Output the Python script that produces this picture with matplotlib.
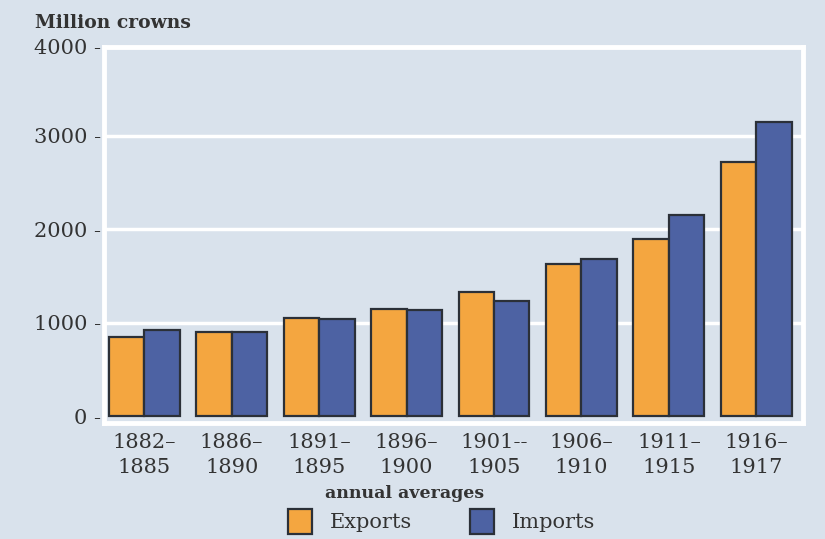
import matplotlib.pyplot as plt
import numpy as np
from matplotlib.patches import Rectangle

periods = ["1882–\n1885", "1886–\n1890", "1891–\n1895", "1896–\n1900",
           "1901--\n1905", "1906–\n1910", "1911–\n1915", "1916–\n1917"]
exports = [845, 898, 1048, 1144, 1326, 1626, 1893, 2716]
imports = [920, 895, 1037, 1134, 1230, 1679, 2150, 3144]
ytick_vals = [0, 1000, 2000, 3000, 3950]
ytick_labels = ["0", "1000", "2000", "3000", "4000"]

bg = "#d9e2ec"
orange = "#f4a640"
blue = "#4d62a3"
edge = "#2b3038"
txt = "#333333"
serif = ["DejaVu Serif"]

fig = plt.figure(figsize=(8.25, 5.39), dpi=100, facecolor=bg)
ax = fig.add_axes([0.126, 0.215, 0.847, 0.698], facecolor=bg)

x = np.arange(len(periods))
w = 0.405
ax.bar(x - w / 2, exports, w, color=orange, edgecolor=edge, linewidth=1.6, zorder=3)
ax.bar(x + w / 2, imports, w, color=blue, edgecolor=edge, linewidth=1.6, zorder=3)

ax.set_xlim(-0.46, 7.53)
ax.set_ylim(-75, 3950)

for gy in [1000, 2000, 3000]:
    ax.axhline(gy, color="white", linewidth=2.5, zorder=1)

for s in ax.spines.values():
    s.set_color("white")
    s.set_linewidth(3.5)

ax.set_xticks(x)
ax.set_xticklabels(periods, fontsize=15, color=txt, family=serif, linespacing=1.4)
ax.set_yticks(ytick_vals)
ax.set_yticklabels([l + " -" for l in ytick_labels], fontsize=15, color=txt, family=serif)
ax.tick_params(axis="both", length=0)
ax.tick_params(axis="y", pad=2)
ax.tick_params(axis="x", pad=7)

fig.text(0.042, 0.958, "Million crowns", fontsize=13.5, fontweight="bold",
         color=txt, family=serif, va="center", ha="left")
fig.text(0.49, 0.085, "annual averages", fontsize=12.5, fontweight="bold",
         color=txt, family=serif, va="center", ha="center")

# legend swatches and labels
for px, col, lab in [(0.349, orange, "Exports"), (0.570, blue, "Imports")]:
    fig.patches.append(Rectangle((px, 0.0085), 0.029, 0.048, transform=fig.transFigure,
                                 facecolor=col, edgecolor=edge, linewidth=1.6))
    fig.text(px + 0.051, 0.031, lab, fontsize=15, color=txt, family=serif,
             va="center", ha="left")

fig.savefig("out.png", dpi=100, facecolor=bg)
